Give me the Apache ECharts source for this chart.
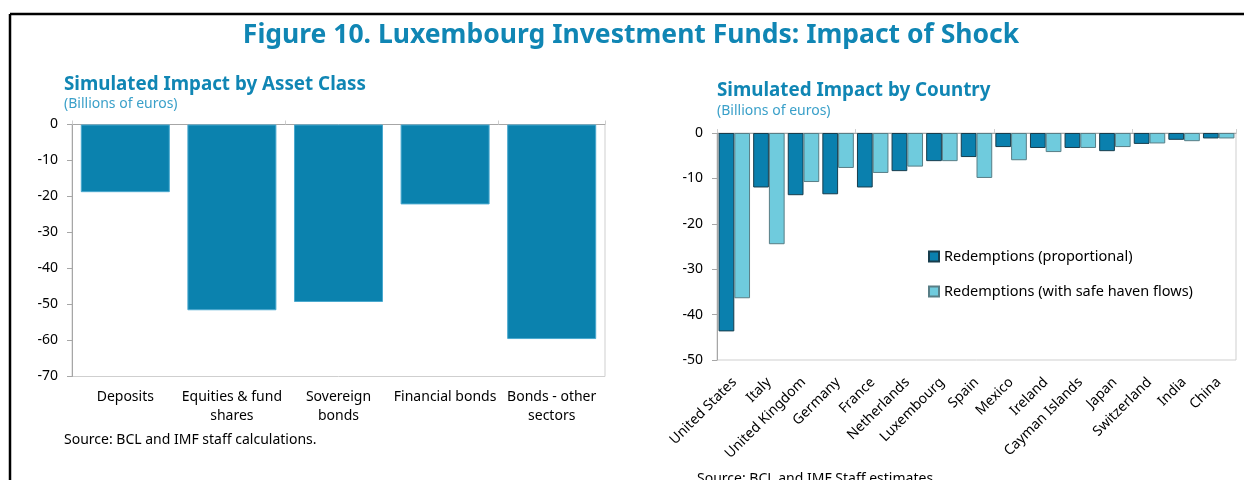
<!DOCTYPE html>
<html>
<head>
<meta charset="utf-8">
<script src="https://cdn.jsdelivr.net/npm/echarts@6/dist/echarts.min.js"></script>
<style>
  html, body { margin: 0; padding: 0; background: #fff; }
  #chart { width: 1244px; height: 480px; }
</style>
</head>
<body>
<div id="chart"></div>
<script>
// left panel: impact by asset class
const assetClasses = ['Deposits', 'Equities & fund\nshares', 'Sovereign\nbonds', 'Financial bonds', 'Bonds - other\nsectors'];
const assetImpact = [-18.8, -51.6, -49.3, -22.2, -59.6];
const assetTicks = [0, -10, -20, -30, -40, -50, -60, -70];

// right panel: impact by country
const countries = ['United States', 'Italy', 'United Kingdom', 'Germany', 'France', 'Netherlands', 'Luxembourg',
  'Spain', 'Mexico', 'Ireland', 'Cayman Islands', 'Japan', 'Switzerland', 'India', 'China'];
const proportional = [-43.7, -12.0, -13.7, -13.5, -12.0, -8.4, -6.2, -5.3, -3.1, -3.3, -3.3, -4.0, -2.4, -1.5, -1.2];
const safeHaven = [-36.4, -24.5, -10.8, -7.7, -8.8, -7.4, -6.2, -9.9, -6.0, -4.2, -3.3, -3.1, -2.3, -1.8, -1.2];
const countryTicks = [0, -10, -20, -30, -40, -50];

const FONT = 'Noto Sans';
const BLUE = '#1086b4';
const LIGHT_BLUE = '#3aa0c9';
const AXIS_GRAY = '#a6a6a6';
const BORDER_GRAY = '#cfcfcf';

const chart = echarts.init(document.getElementById('chart'));

const yAxisBase = (ticks) => ({
  type: 'value',
  min: ticks[ticks.length - 1],
  max: ticks[0],
  interval: 10,
  splitLine: { show: false },
  axisLine: { show: true, lineStyle: { color: AXIS_GRAY } },
  axisTick: { show: true, length: 5, lineStyle: { color: AXIS_GRAY } },
  axisLabel: { color: '#000', fontFamily: FONT, fontSize: 14, margin: 14 },
});

const option = {
  animation: false,
  textStyle: { fontFamily: FONT },
  grid: [
    { left: 72, top: 124.5, right: 639, bottom: 103.5, show: true, borderColor: BORDER_GRAY, borderWidth: 1 },
    { left: 717, top: 133, right: 8, bottom: 120, show: true, borderColor: BORDER_GRAY, borderWidth: 1 },
  ],
  xAxis: [
    // labels at the bottom of the left plot
    {
      gridIndex: 0, type: 'category', data: assetClasses, position: 'bottom',
      axisLine: { show: false }, axisTick: { show: false },
      axisLabel: { color: '#000', fontFamily: FONT, fontSize: 14, lineHeight: 19, margin: 11, interval: 0 },
    },
    // zero line on top of the left plot
    {
      gridIndex: 0, type: 'category', data: assetClasses, position: 'top',
      axisLine: { show: true, lineStyle: { color: AXIS_GRAY } },
      axisTick: { show: true, length: 4, lineStyle: { color: BORDER_GRAY } },
      axisLabel: { show: false },
    },
    {
      gridIndex: 1, type: 'category', data: countries, position: 'bottom',
      axisLine: { show: false }, axisTick: { show: false },
      axisLabel: { color: '#000', fontFamily: FONT, fontSize: 14, rotate: 45, margin: 20, interval: 0 },
    },
    {
      gridIndex: 1, type: 'category', data: countries, position: 'top',
      axisLine: { show: true, lineStyle: { color: AXIS_GRAY } },
      axisTick: { show: true, length: 4, lineStyle: { color: BORDER_GRAY } },
      axisLabel: { show: false },
    },
  ],
  yAxis: [
    Object.assign(yAxisBase(assetTicks), { gridIndex: 0 }),
    Object.assign(yAxisBase(countryTicks), { gridIndex: 1 }),
  ],
  legend: {
    orient: 'vertical',
    left: 923,
    top: 244,
    itemWidth: 10,
    itemHeight: 10,
    itemGap: 20,
    icon: 'rect',
    textStyle: { color: '#000', fontFamily: FONT, fontSize: 14.5 },
    data: ['Redemptions (proportional)', 'Redemptions (with safe haven flows)'],
  },
  series: [
    {
      type: 'bar', xAxisIndex: 0, yAxisIndex: 0, data: assetImpact,
      barCategoryGap: '16.5%',
      itemStyle: { color: '#0b82ae', borderColor: '#4aa9cf', borderWidth: 1 },
    },
    {
      name: 'Redemptions (proportional)', type: 'bar', xAxisIndex: 2, yAxisIndex: 1,
      data: proportional, barGap: '0%', barCategoryGap: '9%',
      itemStyle: { color: '#0a80ae', borderColor: '#173d4d', borderWidth: 1 },
    },
    {
      name: 'Redemptions (with safe haven flows)', type: 'bar', xAxisIndex: 2, yAxisIndex: 1,
      data: safeHaven, barGap: '0%', barCategoryGap: '9%',
      itemStyle: { color: '#6fcbdd', borderColor: '#587e86', borderWidth: 1 },
    },
  ],
  graphic: [
    // figure frame
    { type: 'line', shape: { x1: 10, y1: 14, x2: 1244, y2: 14 }, style: { stroke: '#000', lineWidth: 2.5 } },
    { type: 'line', shape: { x1: 10, y1: 14, x2: 10, y2: 480 }, style: { stroke: '#000', lineWidth: 2.5 } },
    {
      type: 'text', x: 631, y: 35,
      style: { text: 'Figure 10. Luxembourg Investment Funds: Impact of Shock', fill: BLUE,
        font: 'bold 26.5px "Noto Sans"', textAlign: 'center', textVerticalAlign: 'middle' },
    },
    {
      type: 'text', x: 64, y: 85,
      style: { text: 'Simulated Impact by Asset Class', fill: BLUE,
        font: 'bold 18.8px "Noto Sans"', textAlign: 'left', textVerticalAlign: 'middle' },
    },
    {
      type: 'text', x: 64, y: 104,
      style: { text: '(Billions of euros)', fill: LIGHT_BLUE,
        font: '14px "Noto Sans"', textAlign: 'left', textVerticalAlign: 'middle' },
    },
    {
      type: 'text', x: 717, y: 91,
      style: { text: 'Simulated Impact by Country', fill: BLUE,
        font: 'bold 18.8px "Noto Sans"', textAlign: 'left', textVerticalAlign: 'middle' },
    },
    {
      type: 'text', x: 717, y: 111,
      style: { text: '(Billions of euros)', fill: LIGHT_BLUE,
        font: '14px "Noto Sans"', textAlign: 'left', textVerticalAlign: 'middle' },
    },
    {
      type: 'text', x: 64, y: 440,
      style: { text: 'Source: BCL and IMF staff calculations.', fill: '#000',
        font: '14px "Noto Sans"', textAlign: 'left', textVerticalAlign: 'middle' },
    },
    {
      type: 'text', x: 697, y: 479,
      style: { text: 'Source: BCL and IMF Staff estimates', fill: '#000',
        font: '14px "Noto Sans"', textAlign: 'left', textVerticalAlign: 'middle' },
    },
  ],
};

chart.setOption(option);
</script>
</body>
</html>
